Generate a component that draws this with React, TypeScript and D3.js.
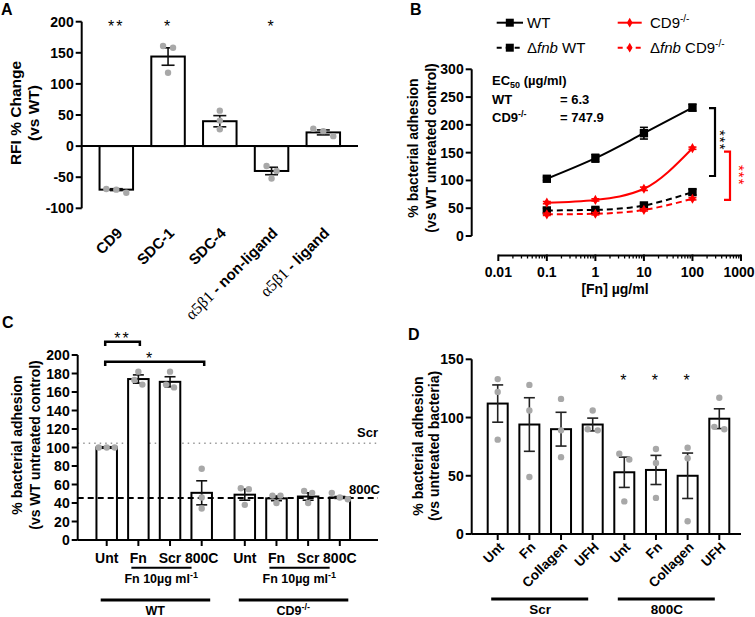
import React from 'react';
import * as d3 from 'd3';

const FONT = 'Liberation Sans, Arial, Helvetica, sans-serif';
const SERIF = 'Liberation Serif, Times New Roman, serif';
const GRAY = '#a8a8a8';
const RED = '#ff0000';

// ---- panel A data
const aCategories = ['CD9', 'SDC-1', 'SDC-4', 'a5b1-nonligand', 'a5b1-ligand'];
const aMeans = [-70, 144, 40, -40, 22];
const aErrors = [1.5, 14, 9, 6, 4];
const aPoints = [[-75, -69, -70], [161, 158, 118], [57, 41, 27], [-32, -40, -52], [28, 24, 16]];
const aStars = ['**', '*', '', '*', ''];
const aTicks = [-100, -50, 0, 50, 100, 150, 200];

// ---- panel B data
const bDoses = [0.1, 1, 10, 100];
const bWT = [103, 140, 185, 231];
const bWTErr = [3, 7, 10.5, 6];
const bCD9 = [60, 65, 85, 158];
const bCD9Err = [2, 2, 3, 2];
const bFnbWT = [46, 47, 55, 79];
const bFnbWTErr = [4, 4, 4, 5];
const bFnbCD9 = [39, 40, 47, 67];
const bFnbCD9Err = [2, 2, 2, 2];
const bXTicks = [0.01, 0.1, 1, 10, 100, 1000];
const bYTicks = [0, 50, 100, 150, 200, 250, 300];
const bBracketWT = [108, 230];
const bBracketCD9 = [65, 152];

// ---- panel C data
const cGroups = ['WT', 'CD9'];
const cTreatments = ['Unt', 'Fn', 'Scr', '800C'];
const cWT = [100, 174, 171, 51];
const cWTErr = [0.8, 4.5, 5.5, 13];
const cCD9 = [49, 45, 47, 46];
const cCD9Err = [6, 2.5, 4, 1];
const cWTPoints = [[100, 100, 100], [182, 173, 168], [182, 165, 168], [77, 46, 34]];
const cCD9Points = [[56, 55, 38], [48, 48, 40], [53, 51, 40], [51, 44, 46]];
const cRefScr = 104.5;
const cRef800C = 45.5;
const cTicks = [0, 20, 40, 60, 80, 100, 120, 140, 160, 180, 200];

// ---- panel D data
const dGroups = ['Scr', '800C'];
const dTreatments = ['Unt', 'Fn', 'Collagen', 'UFH'];
const dScr = [112, 94, 90, 94];
const dScrErr = [16, 23, 14.5, 5.5];
const d800C = [53, 55, 50, 99];
const d800CErr = [13, 12.5, 19.5, 8.5];
const dScrPoints = [[133, 122, 81], [128, 106, 49], [116, 89, 66], [106, 89, 90]];
const d800CPoints = [[69, 64, 28], [73, 61, 31], [74, 65, 11], [117, 90, 92]];
const d800CStars = ['*', '*', '*', ''];
const dTicks = [0, 50, 100, 150];

// spread overlapping dots sideways like prism does
function swarm(vals: number[], y: (v: number) => number, r: number, d: number) {
  const idx = vals.map((_, i) => i).sort((a, b) => y(vals[a]) - y(vals[b]));
  const off = vals.map(() => 0);
  let cl: number[] = [];
  const flush = () => {
    cl.forEach((k, j) => { off[k] = (j - (cl.length - 1) / 2) * d; });
    cl = [];
  };
  idx.forEach(k => {
    if (cl.length && Math.abs(y(vals[k]) - y(vals[cl[cl.length - 1]])) >= 2 * r) flush();
    cl.push(k);
  });
  flush();
  return off;
}

function Star(props: { x: number; y: number; text: string; fill?: string; size?: number }) {
  const s = props.size || 16;
  return (
    <text x={props.x} y={props.y + s * 0.58} textAnchor="middle" fontSize={s}
      fill={props.fill || '#000'} letterSpacing={2}>{props.text}</text>
  );
}

function Dots(props: { cx: number; vals: number[]; y: any; d: number }) {
  const off = swarm(props.vals, props.y, 3, props.d);
  return (
    <g>
      {props.vals.map((v, i) => (
        <circle key={i} cx={props.cx + off[i]} cy={props.y(v)} r={3.2} fill={GRAY} />
      ))}
    </g>
  );
}

function ErrBar(props: { x: number; y0: number; y1: number; w: number; color?: string }) {
  const c = props.color || '#111';
  return (
    <g stroke={c} strokeWidth={1.6}>
      <line x1={props.x} x2={props.x} y1={props.y0} y2={props.y1} />
      <line x1={props.x - props.w / 2} x2={props.x + props.w / 2} y1={props.y0} y2={props.y0} />
      <line x1={props.x - props.w / 2} x2={props.x + props.w / 2} y1={props.y1} y2={props.y1} />
    </g>
  );
}

function YAxis(props: { x: number; y: any; ticks: number[]; top: number; bottom: number }) {
  return (
    <g>
      <line x1={props.x} x2={props.x} y1={props.top} y2={props.bottom} stroke="#000" strokeWidth={2} />
      {props.ticks.map(t => (
        <g key={t}>
          <line x1={props.x - 6} x2={props.x} y1={props.y(t)} y2={props.y(t)} stroke="#000" strokeWidth={2} />
          <text x={props.x - 8} y={props.y(t)} dy="0.36em" textAnchor="end" fontSize={14} fontWeight="bold">{t}</text>
        </g>
      ))}
    </g>
  );
}

function YTitle(props: { x1: number; x2: number; cy: number; l1: string; l2: string; size?: number }) {
  return (
    <g fontSize={props.size || 14} fontWeight="bold">
      <text transform={`translate(${props.x1},${props.cy}) rotate(-90)`} textAnchor="middle">{props.l1}</text>
      <text transform={`translate(${props.x2},${props.cy}) rotate(-90)`} textAnchor="middle">{props.l2}</text>
    </g>
  );
}

function PanelA() {
  const y = d3.scaleLinear().domain([-100, 200]).range([208.3, 21.7]);
  const x = d3.scalePoint<string>().domain(aCategories).range([116.3, 323.3]);
  const left = 81.7, right = 358, bw = 33.5;
  return (
    <g>
      <text x={1} y={15} fontSize={16} fontWeight="bold">A</text>
      <YTitle x1={21} x2={39} cy={113} l1="RFI % Change" l2="(vs WT)" size={15.5} />
      <YAxis x={left} y={y} ticks={aTicks} top={y(200)} bottom={y(-100)} />
      {aCategories.map((c, i) => {
        const cx = x(c) as number;
        const v = aMeans[i];
        return (
          <g key={c}>
            <rect x={cx - bw / 2} y={Math.min(y(v), y(0))} width={bw} height={Math.abs(y(v) - y(0))}
              fill="#fff" stroke="#000" strokeWidth={2} />
            <ErrBar x={cx} y0={y(v + aErrors[i])} y1={y(v - aErrors[i])} w={13} />
            <Dots cx={cx} vals={aPoints[i]} y={y} d={10} />
            {aStars[i] && <Star x={cx} y={22.7} text={aStars[i]} />}
            <text transform={`translate(${cx + 7},${234}) rotate(-45)`} textAnchor="end" fontSize={15} fontWeight="bold">
              {i < 3 ? c : (
                <>
                  <tspan fontFamily={SERIF} fontWeight="normal" fontSize={16}>α5β1</tspan>
                  <tspan>{i === 3 ? ' - non-ligand' : ' - ligand'}</tspan>
                </>
              )}
            </text>
          </g>
        );
      })}
      <line x1={left} x2={right} y1={y(0)} y2={y(0)} stroke="#000" strokeWidth={2} />
    </g>
  );
}

function PanelB() {
  const x = d3.scaleLog().domain([0.01, 1000]).range([498.3, 741]);
  const y = d3.scaleLinear().domain([0, 300]).range([236, 69.3]);
  const axisY = 255.5;
  const series = [
    { v: bFnbWT, e: bFnbWTErr, color: '#000', dash: '6,4', shape: d3.symbolSquare, size: 70 },
    { v: bFnbCD9, e: bFnbCD9Err, color: RED, dash: '6,4', shape: d3.symbolDiamond, size: 30 },
    { v: bCD9, e: bCD9Err, color: RED, dash: '', shape: d3.symbolDiamond, size: 30 },
    { v: bWT, e: bWTErr, color: '#000', dash: '', shape: d3.symbolSquare, size: 70 },
  ];
  const line = d3.line<number>()
    .x((_, i) => x(bDoses[i]))
    .y(d => y(d))
    .curve(d3.curveMonotoneX);
  const minor = x.ticks().filter(t => !bXTicks.includes(t));
  const sq = d3.symbol().type(d3.symbolSquare).size(64)() as string;
  const dm = d3.symbol().type(d3.symbolDiamond).size(28)() as string;
  const bracket = (vals: number[], bx: number, color: string) => (
    <path d={`M${bx - 6},${y(vals[1])}H${bx}V${y(vals[0])}H${bx - 6}`} fill="none" stroke={color} strokeWidth={2.2} />
  );
  return (
    <g>
      <text x={410} y={15} fontSize={16} fontWeight="bold">B</text>
      {/* legend */}
      <g fontSize={15}>
        <line x1={496.7} x2={523} y1={22.7} y2={22.7} stroke="#000" strokeWidth={2} />
        <path d={sq} transform="translate(509.8,22.7)" />
        <text x={527} y={28}>WT</text>
        <line x1={496.7} x2={523} y1={47.7} y2={47.7} stroke="#000" strokeWidth={2} strokeDasharray="5,4" />
        <path d={sq} transform="translate(509.8,47.7)" />
        <text x={527} y={53}>Δ<tspan fontStyle="italic">fnb</tspan> WT</text>
        <line x1={617.7} x2={641.7} y1={22.7} y2={22.7} stroke={RED} strokeWidth={2} />
        <path d={dm} transform="translate(629.7,22.7)" fill={RED} />
        <text x={650} y={28}>CD9<tspan dy={-6} fontSize={10}>-/-</tspan></text>
        <line x1={617.7} x2={641.7} y1={47.7} y2={47.7} stroke={RED} strokeWidth={2} strokeDasharray="5,4" />
        <path d={dm} transform="translate(629.7,47.7)" fill={RED} />
        <text x={650} y={53}>Δ<tspan fontStyle="italic">fnb</tspan> CD9<tspan dy={-6} fontSize={10}>-/-</tspan></text>
      </g>
      <YTitle x1={418} x2={436} cy={148} l1="% bacterial adhesion" l2="(vs WT untreated control)" />
      <YAxis x={471.7} y={y} ticks={bYTicks} top={y(300)} bottom={y(0)} />
      {/* log x axis */}
      <line x1={x(0.01)} x2={x(1000)} y1={axisY} y2={axisY} stroke="#000" strokeWidth={2} />
      {minor.map(t => (
        <line key={'m' + t} x1={x(t)} x2={x(t)} y1={axisY} y2={axisY + 3} stroke="#000" strokeWidth={1.3} />
      ))}
      {bXTicks.map(t => (
        <g key={t}>
          <line x1={x(t)} x2={x(t)} y1={axisY - 1} y2={axisY + 5.5} stroke="#000" strokeWidth={2} />
          <text x={t === 1000 ? x(t) - 2 : x(t)} y={277} textAnchor="middle" fontSize={14} fontWeight="bold">{t}</text>
        </g>
      ))}
      <text x={615} y={294} textAnchor="middle" fontSize={14} fontWeight="bold">[Fn] µg/ml</text>
      {/* EC50 */}
      <g fontSize={13} fontWeight="bold">
        <text x={492} y={85}>EC<tspan dy={3} fontSize={9}>50</tspan><tspan dy={-3}> (µg/ml)</tspan></text>
        <text x={492} y={103.5}>WT</text>
        <text x={560} y={103.5}>= 6.3</text>
        <text x={492} y={122}>CD9<tspan dy={-5} fontSize={9}>-/-</tspan></text>
        <text x={560} y={122}>= 747.9</text>
      </g>
      {series.map((s, k) => (
        <path key={'l' + k} d={line(s.v) as string} fill="none" stroke={s.color} strokeWidth={2}
          strokeDasharray={s.dash || undefined} />
      ))}
      {series.map((s, k) => (
        <g key={'p' + k}>
          {s.v.map((v, i) => (
            <g key={i}>
              <ErrBar x={x(bDoses[i])} y0={y(v + s.e[i])} y1={y(v - s.e[i])} w={8} color={s.color} />
              <path d={d3.symbol().type(s.shape).size(s.size)() as string}
                transform={`translate(${x(bDoses[i])},${y(v)})`} fill={s.color} />
            </g>
          ))}
        </g>
      ))}
      {bracket(bBracketWT, 715, '#000')}
      {bracket(bBracketCD9, 730, RED)}
      <text transform="translate(715,130) rotate(90)" fontSize={15} letterSpacing={1}>***</text>
      <text transform="translate(734,165) rotate(90)" fontSize={15} letterSpacing={1} fill={RED}>***</text>
    </g>
  );
}

function PanelC() {
  const y = d3.scaleLinear().domain([0, 200]).range([540, 355]);
  const gx = d3.scalePoint<string>().domain(cGroups).range([154.2, 292.3]);
  const ix = d3.scalePoint<string>().domain(cTreatments).range([-47.5, 47.5]);
  const left = 77.7, right = 378, bw = 20.5;
  const groups = [
    { g: 'WT', m: cWT, e: cWTErr, p: cWTPoints },
    { g: 'CD9', m: cCD9, e: cCD9Err, p: cCD9Points },
  ];
  const cxOf = (g: string, t: string) => (gx(g) as number) + (ix(t) as number);
  return (
    <g>
      <text x={2} y={328} fontSize={16} fontWeight="bold">C</text>
      <YTitle x1={22} x2={40} cy={445} l1="% bacterial adhesion" l2="(vs WT untreated control)" />
      <line x1={left} x2={right} y1={y(cRefScr)} y2={y(cRefScr)} stroke="#999" strokeWidth={1.5} strokeDasharray="1.5,4" />
      {groups.map(G => (
        <g key={G.g}>
          {cTreatments.map((t, i) => {
            const cx = cxOf(G.g, t);
            return (
              <rect key={t} x={cx - bw / 2} y={y(G.m[i])} width={bw} height={y(0) - y(G.m[i])} fill="#fff" stroke="#000" strokeWidth={2} />
            );
          })}
        </g>
      ))}
      <line x1={left} x2={right} y1={y(cRef800C)} y2={y(cRef800C)} stroke="#000" strokeWidth={2} strokeDasharray="6,4" />
      {groups.map(G => (
        <g key={'e' + G.g}>
          {cTreatments.map((t, i) => {
            const cx = cxOf(G.g, t);
            return (
              <g key={t}>
                <ErrBar x={cx} y0={y(G.m[i] + G.e[i])} y1={y(G.m[i] - G.e[i])} w={11} />
                <Dots cx={cx} vals={G.p[i]} y={y} d={8} />
                <line x1={cx} x2={cx} y1={y(0)} y2={y(0) + 6} stroke="#000" strokeWidth={2} />
                <text x={cx} y={563} textAnchor="middle" fontSize={14} fontWeight="bold">{t}</text>
              </g>
            );
          })}
          <line x1={cxOf(G.g, 'Fn') - 7} x2={cxOf(G.g, 'Scr') + 21.5} y1={567.7} y2={567.7} stroke="#000" strokeWidth={2} />
          <text x={(cxOf(G.g, 'Fn') + cxOf(G.g, 'Scr')) / 2 + 7} y={583} textAnchor="middle" fontSize={12.5} fontWeight="bold">
            Fn 10µg ml<tspan dy={-5} fontSize={9}>-1</tspan>
          </text>
          <line x1={cxOf(G.g, 'Unt') - 6} x2={cxOf(G.g, '800C') + 8.5} y1={600} y2={600} stroke="#000" strokeWidth={3} />
          <text x={(cxOf(G.g, 'Unt') + cxOf(G.g, '800C')) / 2 + 1} y={615} textAnchor="middle" fontSize={12.5} fontWeight="bold">
            {G.g === 'WT' ? 'WT' : <>CD9<tspan dy={-5} fontSize={9}>-/-</tspan></>}
          </text>
        </g>
      ))}
      <YAxis x={left} y={y} ticks={cTicks} top={y(200)} bottom={y(0)} />
      <line x1={left} x2={right} y1={y(0)} y2={y(0)} stroke="#000" strokeWidth={2} />
      <text x={378} y={437} textAnchor="end" fontSize={13} fontWeight="bold">Scr</text>
      <text x={380} y={494} textAnchor="end" fontSize={13} fontWeight="bold">800C</text>
      {/* significance */}
      <path d={`M${cxOf('WT', 'Unt') - 1.5},346H${cxOf('WT', 'Unt') - 1.5}V341.7H${cxOf('WT', 'Fn') + 1.5}V346`} fill="none" stroke="#000" strokeWidth={2.5} />
      <Star x={(cxOf('WT', 'Unt') + cxOf('WT', 'Fn')) / 2} y={335} text="**" />
      <path d={`M${cxOf('WT', 'Unt') - 1.5},366H${cxOf('WT', 'Unt') - 1.5}V361.7H${cxOf('WT', '800C') + 2.5}V366`} fill="none" stroke="#000" strokeWidth={2.5} />
      <Star x={150} y={355} text="*" />
    </g>
  );
}

function PanelD() {
  const y = d3.scaleLinear().domain([0, 150]).range([534, 359.3]);
  const gx = d3.scalePoint<string>().domain(dGroups).range([545.2, 671.8]);
  const ix = d3.scalePoint<string>().domain(dTreatments).range([-47.5, 47.5]);
  const left = 471.7, right = 741, bw = 20;
  const groups = [
    { g: 'Scr', m: dScr, e: dScrErr, p: dScrPoints, s: ['', '', '', ''] },
    { g: '800C', m: d800C, e: d800CErr, p: d800CPoints, s: d800CStars },
  ];
  const cxOf = (g: string, t: string) => (gx(g) as number) + (ix(t) as number);
  return (
    <g>
      <text x={408} y={340} fontSize={16} fontWeight="bold">D</text>
      <YTitle x1={423} x2={439} cy={446} l1="% bacterial adhesion" l2="(vs untreated bacteria)" />
      {groups.map(G => (
        <g key={G.g}>
          {dTreatments.map((t, i) => {
            const cx = cxOf(G.g, t);
            return (
              <g key={t}>
                <rect x={cx - bw / 2} y={y(G.m[i])} width={bw} height={y(0) - y(G.m[i])} fill="#fff" stroke="#000" strokeWidth={2} />
                <ErrBar x={cx} y0={y(G.m[i] + G.e[i])} y1={y(G.m[i] - G.e[i])} w={11} color="#222" />
                <Dots cx={cx} vals={G.p[i]} y={y} d={10} />
                {G.s[i] && <Star x={cx} y={376.7} text={G.s[i]} />}
                <line x1={cx} x2={cx} y1={y(0)} y2={y(0) + 6} stroke="#000" strokeWidth={2} />
                <text transform={`translate(${cx + 7},${548}) rotate(-45)`} textAnchor="end" fontSize={13.5} fontWeight="bold">{t}</text>
              </g>
            );
          })}
          <line x1={cxOf(G.g, 'Unt') - 6.5} x2={cxOf(G.g, 'UFH') - 4.5} y1={599} y2={599} stroke="#000" strokeWidth={3} />
          <text x={(cxOf(G.g, 'Unt') + cxOf(G.g, 'UFH')) / 2 - 5} y={614} textAnchor="middle" fontSize={13.5} fontWeight="bold">{G.g}</text>
        </g>
      ))}
      <YAxis x={left} y={y} ticks={dTicks} top={y(150)} bottom={y(0)} />
      <line x1={left} x2={right} y1={y(0)} y2={y(0)} stroke="#000" strokeWidth={2} />
    </g>
  );
}

export default function App() {
  return (
    <svg width={755} height={617} fontFamily={FONT}
      style={{ position: 'absolute', left: 0, top: 0, background: '#fff' }}>
      <rect width={755} height={617} fill="#fff" />
      <PanelA />
      <PanelB />
      <PanelC />
      <PanelD />
    </svg>
  );
}
